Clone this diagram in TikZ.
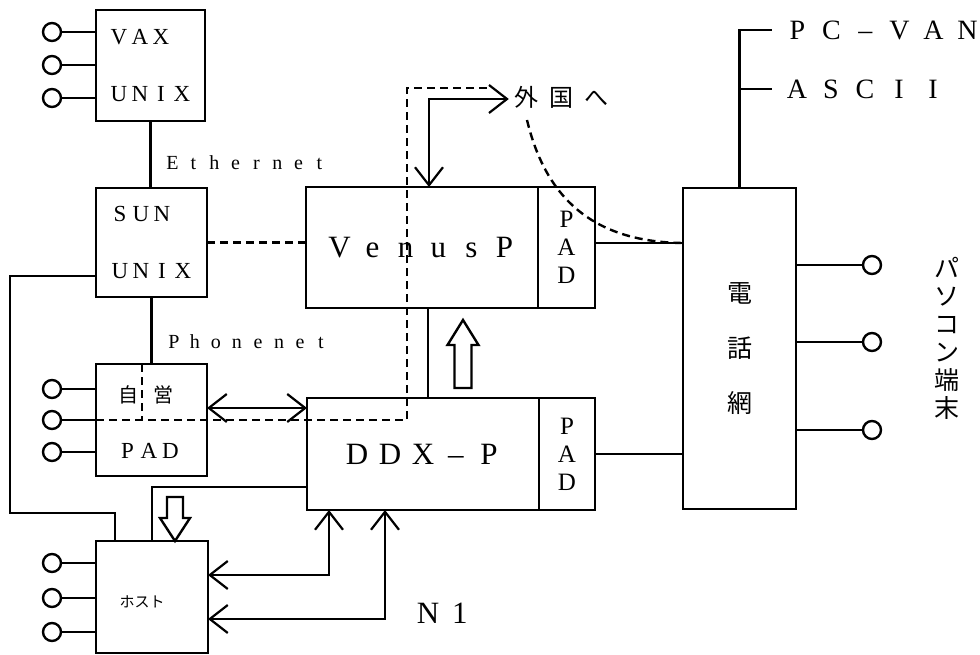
\documentclass[tikz,border=0pt]{standalone}
\usepackage{fontspec}
\setmainfont{Liberation Serif}
\newfontfamily\jp{Noto Sans CJK JP}
\usetikzlibrary{arrows.meta,positioning,calc}
\makeatletter
\newcommand{\cells}[2]{\@tfor\cellch:=#2\do{\makebox[#1][c]{\cellch}}}
\makeatother

\begin{document}
\begin{tikzpicture}[x=1pt,y=-1pt,
  box/.style={draw,line width=2.4pt,outer sep=0pt,inner sep=0pt,align=center},
  padbox/.style={box,minimum width=57pt,font=\fontsize{25}{28}\selectfont},
  term/.style={draw,circle,line width=2.4pt,minimum size=18pt,inner sep=0pt},
  wire/.style={line width=2.2pt},
  dashwire/.style={line width=2.4pt,dash pattern=on 8pt off 5pt},
  twoway/.style={wire,{Straight Barb[length=18pt,width=28pt]}-{Straight Barb[length=18pt,width=28pt]}},
  fatarrow/.style={line width=2.4pt,fill=white,line join=miter},
  lbl/.style={inner sep=0pt},
  txtsmall/.style={font=\fontsize{20}{20}\selectfont},
  txtmid/.style={font=\fontsize{23}{23}\selectfont},
  txtlarge/.style={font=\fontsize{31}{31}\selectfont},
]
\useasboundingbox (0,0) rectangle (980,655);
% hosts on the left
\node[box,minimum width=109pt,minimum height=111pt,txtmid,align=left] (vax) at (150.5,65.5) {\cells{21pt}{VAX}\\[34pt]\cells{21pt}{UNIX}};
\node[box,minimum width=111pt,minimum height=109pt,txtmid,align=left] (sun) at (151.5,242.5) {\cells{21pt}{SUN}\\[34pt]\cells{21pt}{UNIX}};
\node[box,minimum width=111pt,minimum height=112pt] (jiei) at (151.5,420) {};
\node[lbl,font=\jp\fontsize{20}{20}\selectfont] (ji) at (128,395) {自};
\node[lbl,font=\jp\fontsize{20}{20}\selectfont] (ei) at (163,395) {営};
\node[lbl,txtmid] (jieipad) at (149,451) {\cells{21.5pt}{PAD}};
\node[box,minimum width=112pt,minimum height=112pt] (host) at (152,597) {};
\node[lbl,font=\jp\fontsize{15}{15}\selectfont] (hostname) at (142,602) {ホスト};
% packet exchanges
\node[box,minimum width=232pt,minimum height=121pt,txtlarge] (venus) at (422,247.5) {\cells{33pt}{VenusP}};
\node[padbox,minimum height=121pt,right=0pt of venus] (venuspad) {P\\A\\D};
\node[box,minimum width=232pt,minimum height=112pt,txtlarge] (ddx) at (423,454) {\cells{33pt}{DDX–P}};
\node[padbox,minimum width=56pt,minimum height=112pt,right=0pt of ddx] (ddxpad) {P\\A\\D};
\node[box,minimum width=113pt,minimum height=321pt,font=\jp\fontsize{25}{55}\selectfont] (denwa) at (739.5,348.5) {電\\話\\網};
% labels
\node[lbl,txtsmall] (ether) at (246,163) {\cells{21pt}{Ethernet}};
\node[lbl,txtsmall] (phone) at (247.5,342) {\cells{21pt}{Phonenet}};
\node[lbl,font=\jp\fontsize{24}{24}\selectfont] (gaikoku) at (561.5,97) {\cells{35pt}{外国へ}};
\node[lbl,txtlarge] (n1) at (444,613) {\cells{32pt}{N1}};
\node[lbl,font=\fontsize{28}{28}\selectfont] (pcvan) at (882.5,30) {\cells{34pt}{PC–VAN}};
\node[lbl,font=\fontsize{28}{28}\selectfont] (ascii) at (865,89) {\cells{34pt}{ASCII}};
\node[lbl,align=center,font=\jp\fontsize{25}{28}\selectfont] (pasokon) at (947,338) {パ\\ソ\\コ\\ン\\端\\末};
% terminals
\foreach \i/\yy in {1/32,2/65,3/98}{
  \node[term] (vt\i) at (52,\yy) {};
  \draw[wire] (vt\i) -- (vt\i -| vax.west);
}
\foreach \i/\yy in {1/389,2/420,3/452}{
  \node[term] (jt\i) at (52,\yy) {};
  \draw[wire] (jt\i) -- (jt\i -| jiei.west);
}
\foreach \i/\yy in {1/563,2/598,3/632}{
  \node[term] (ht\i) at (52,\yy) {};
  \draw[wire] (ht\i) -- (ht\i -| host.west);
}
\foreach \i/\yy in {1/265,2/342,3/430}{
  \node[term] (pc\i) at (872,\yy) {};
  \draw[wire] (pc\i -| denwa.east) -- (pc\i);
}
% links
\draw[wire] (vax.south) -- (vax.south |- sun.north);
\draw[wire] (sun.south) -- (jiei.north);
\draw[dashwire] (sun.east) -- (sun.east -| venus.west);
\draw[wire] ([yshift=-33.5pt]sun.west) -| (10,513) -| ([xshift=-37pt]host.north);
\draw[wire] ([xshift=6pt]venus.south) -- ([xshift=6pt]venus.south |- ddx.north);
\draw[wire] ([yshift=4.5pt]venuspad.east) -- ([yshift=105.5pt]denwa.west);
\draw[wire] (ddxpad.east) -- (ddxpad.east -| denwa.west);
\draw[wire] (denwa.north) |- ([xshift=-8pt]pcvan.west);
\draw[wire] ([xshift=-8pt]ascii.west) -- (ascii.west -| denwa.north);
\draw[wire] ([yshift=-33pt]ddx.west) -| (host.north);
\draw[twoway] ([yshift=12pt]jiei.east) -- ([yshift=12pt]jiei.east -| ddx.west);
\draw[twoway] ([yshift=-2pt]gaikoku.west) -| ([xshift=7pt]venus.north);
\draw[twoway] ([xshift=-94pt]ddx.south) |- ([yshift=22pt]host.east);
\draw[twoway] ([xshift=-38pt]ddx.south) |- ([yshift=-22pt]host.east);
% overseas route
\coordinate (riser) at (407,420);
\coordinate (abroad) at (491,88);
\coordinate (curvestart) at (527,120);
\draw[dashwire] ([xshift=-9.5pt]jiei.north) -- ([xshift=-9.5pt]jiei.center);
\draw[dashwire] (jiei.west) -- (riser) |- (abroad);
\draw[dashwire] (curvestart) .. controls (545,195) and (590,242) .. ([yshift=105.5pt]denwa.west);
% hollow arrows
\begin{scope}[shift={(463,320)}]
  \draw[fatarrow] (0,0) -- (15.5,25) -- (8.5,25) -- (8.5,68) -- (-8.5,68) -- (-8.5,25) -- (-15.5,25) -- cycle;
\end{scope}
\begin{scope}[shift={(175,541)}]
  \draw[fatarrow] (0,0) -- (15,-23) -- (8,-23) -- (8,-44) -- (-8,-44) -- (-8,-23) -- (-15,-23) -- cycle;
\end{scope}
\end{tikzpicture}
\end{document}
